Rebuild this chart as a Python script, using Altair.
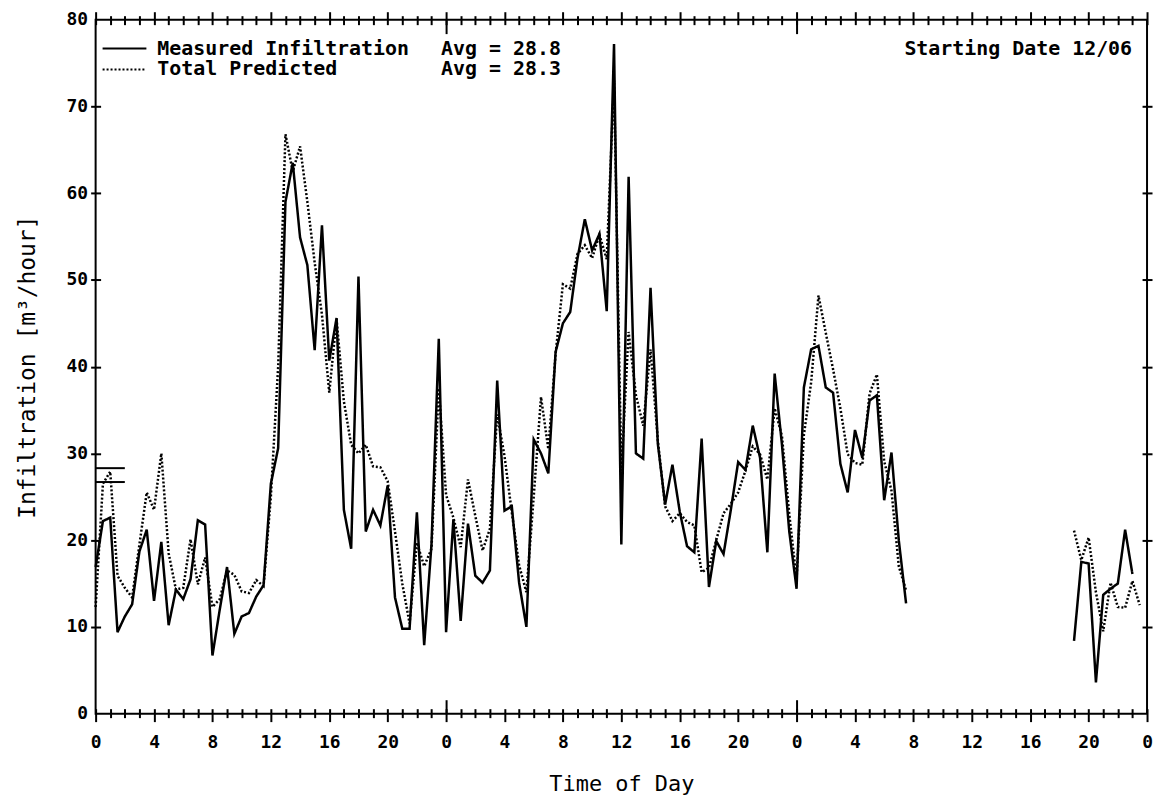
import altair as alt
import pandas as pd

STEP = 0.5  # hours between samples

# ---- data ----
seg1_start = 0.0
measured_1 = [16.9, 22.2, 22.6, 9.4, 11.2, 12.6, 18.7, 21.2, 13.0, 19.8,
              10.2, 14.3, 13.2, 15.5, 22.3, 21.8, 6.7, 12.0, 16.9, 9.2,
              11.2, 11.6, 13.5, 14.8, 26.5, 30.6, 59.0, 63.5, 54.9, 51.7,
              41.9, 56.3, 40.7, 45.6, 23.5, 19.0, 50.4, 21.0, 23.5, 21.7,
              26.3, 13.4, 9.8, 9.8, 23.2, 7.9, 19.5, 43.2, 9.4, 22.4,
              10.7, 21.9, 15.9, 15.1, 16.5, 38.4, 23.4, 23.9, 15.1, 10.0,
              31.6, 30.0, 27.7, 41.7, 45.0, 46.3, 52.5, 57.0, 53.4, 55.3,
              46.4, 77.2, 19.5, 61.9, 30.0, 29.4, 49.1, 31.1, 24.1, 28.7,
              23.3, 19.3, 18.6, 31.7, 14.6, 19.9, 18.4, 23.5, 29.0, 28.1,
              33.2, 29.5, 18.6, 39.2, 31.0, 21.0, 14.4, 37.6, 42.0, 42.4,
              37.6, 37.0, 28.8, 25.5, 32.7, 29.5, 36.1, 36.7, 24.6, 30.1,
              20.0, 12.7]
predicted_1 = [12.3, 26.5, 27.9, 15.9, 14.5, 13.4, 19.5, 25.5, 23.5, 30.0,
               18.5, 14.3, 14.5, 20.1, 14.9, 18.0, 12.3, 13.2, 16.5, 16.0,
               14.1, 13.9, 15.4, 14.7, 25.0, 40.0, 66.8, 62.5, 65.4, 59.0,
               52.0, 46.0, 37.0, 45.5, 36.0, 31.0, 30.0, 31.0, 28.5, 28.4,
               26.8, 21.0, 15.0, 10.4, 19.7, 17.0, 19.0, 37.5, 25.2, 22.6,
               19.2, 27.0, 22.8, 18.8, 21.3, 34.5, 29.7, 23.2, 17.1, 14.0,
               25.0, 36.5, 30.5, 41.5, 49.5, 49.0, 53.0, 54.0, 52.5, 55.2,
               52.4, 73.0, 28.0, 44.0, 36.7, 33.2, 42.0, 31.5, 23.9, 22.2,
               23.1, 22.1, 21.7, 16.3, 16.8, 20.0, 23.1, 24.2, 25.5, 28.0,
               30.8, 29.9, 27.0, 35.2, 32.0, 23.0, 15.5, 32.1, 38.2, 48.2,
               43.9, 39.7, 35.2, 29.9, 28.9, 28.7, 36.9, 39.1, 29.1, 25.7,
               17.0, 14.2]
seg2_start = 67.0
measured_2 = [8.4, 17.5, 17.3, 3.6, 13.7, 14.4, 15.0, 21.2, 16.1]
predicted_2 = [21.1, 17.7, 20.3, 14.0, 9.5, 15.1, 12.3, 12.2, 15.3, 12.5]

avg_marks = [28.3, 26.7]          # short level marks at the left edge
avg_mark_span = [0.0, 2.0]        # hours covered by those marks
legend_names = ["Measured Infiltration", "Total Predicted"]
legend_avgs = ["Avg = 28.8", "Avg = 28.3"]
date_note = "Starting Date 12/06"

hour_ticks = list(range(0, 73))
label_hours = list(range(0, 73, 4))
day_hours = [24, 48]
y_labels = list(range(0, 81, 10))
y_cross = list(range(10, 80, 10))

rows = []
for series, seg, start, vals in [
    ("Measured", 1, seg1_start, measured_1),
    ("Predicted", 1, seg1_start, predicted_1),
    ("Measured", 2, seg2_start, measured_2),
    ("Predicted", 2, seg2_start, predicted_2),
]:
    for k, v in enumerate(vals):
        rows.append({"series": series, "segment": f"{series}-{seg}",
                     "hour": start + k * STEP, "value": v})
df = pd.DataFrame(rows)

avg_df = pd.DataFrame({"value": avg_marks,
                       "x0": [avg_mark_span[0]] * len(avg_marks),
                       "x1": [avg_mark_span[1]] * len(avg_marks)})

FONT = "DejaVu Sans Mono"
W, H = 1056, 697
xscale = alt.Scale(domain=[0, 72], nice=False, zero=False)
yscale = alt.Scale(domain=[0, 80], nice=False)

# axes -----------------------------------------------------------
ax_bottom_labels = alt.Axis(orient="bottom", values=label_hours,
                            labelExpr="'' + (datum.value % 24)",
                            ticks=False, domain=False, grid=False,
                            labelFont=FONT, labelFontSize=18, labelFontWeight="bold",
                            labelColor="black", labelPadding=20, labelOverlap=False,
                            labelFlush=False,
                            title="Time of Day", titleFont=FONT, titleFontSize=22,
                            titleFontWeight="normal", titleColor="black",
                            titleY=70, titleBaseline="middle")
ax_left_labels = alt.Axis(orient="left", values=y_labels, ticks=False, domain=False,
                          grid=False, labelFont=FONT, labelFontSize=18,
                          labelFontWeight="bold", labelColor="black", labelPadding=8,
                          title="Infiltration [m³/hour]", titleFont=FONT,
                          titleFontSize=23, titleFontWeight="normal", titleColor="black",
                          titleX=-68, titleY=H / 2, titleAngle=270,
                          titleAlign="center", titleBaseline="middle")

tick_size_cond = {"condition": {"test": "datum.value % 4 === 0", "value": 13}, "value": 9}
ax_bottom_ticks = alt.Axis(orient="bottom", values=hour_ticks, labels=False, domain=False,
                           grid=False, ticks=True, tickColor="black", tickWidth=2,
                           tickSize=tick_size_cond, offset=-5, title=None)
ax_top_ticks = alt.Axis(orient="top", values=hour_ticks, labels=False, domain=False,
                        grid=False, ticks=True, tickColor="black", tickWidth=2,
                        tickSize=tick_size_cond, offset=-5, title=None)
ax_left_ticks = alt.Axis(orient="left", values=y_cross, labels=False, domain=False,
                         grid=False, ticks=True, tickColor="black", tickWidth=2,
                         tickSize=10, offset=-5, title=None)
ax_right_ticks = alt.Axis(orient="right", values=y_cross, labels=False, domain=False,
                          grid=False, ticks=True, tickColor="black", tickWidth=2,
                          tickSize=10, offset=-5, title=None)
ax_bottom_day = alt.Axis(orient="bottom", values=day_hours, labels=False, domain=False,
                         grid=False, ticks=True, tickColor="black", tickWidth=2,
                         tickSize=14, offset=-14, title=None)
ax_top_day = alt.Axis(orient="top", values=day_hours, labels=False, domain=False,
                      grid=False, ticks=True, tickColor="black", tickWidth=2,
                      tickSize=14, offset=-14, title=None)

# layers ---------------------------------------------------------
lines = alt.Chart(df).mark_line(color="black", strokeWidth=2.5).encode(
    x=alt.X("hour:Q", scale=xscale, axis=ax_bottom_labels),
    y=alt.Y("value:Q", scale=yscale, axis=ax_left_labels),
    detail="segment:N",
    strokeDash=alt.StrokeDash("series:N",
                              scale=alt.Scale(domain=["Measured", "Predicted"],
                                              range=[[1, 0], [2, 2]]),
                              legend=None),
)

avg_rules = alt.Chart(avg_df).mark_rule(color="black", strokeWidth=2).encode(
    x=alt.X("x0:Q", scale=xscale, axis=ax_bottom_ticks),
    x2="x1:Q",
    y=alt.Y("value:Q", scale=yscale, axis=ax_left_ticks),
)

frame_ticks = alt.Chart(avg_df).mark_point(opacity=0).encode(
    x=alt.X("x0:Q", scale=xscale, axis=ax_top_ticks),
    y=alt.Y("value:Q", scale=yscale, axis=ax_right_ticks),
)
day_ticks_bottom = alt.Chart(avg_df).mark_point(opacity=0).encode(
    x=alt.X("x0:Q", scale=xscale, axis=ax_bottom_day),
    y=alt.Y("value:Q", scale=yscale, axis=None),
)
day_ticks_top = alt.Chart(avg_df).mark_point(opacity=0).encode(
    x=alt.X("x0:Q", scale=xscale, axis=ax_top_day),
    y=alt.Y("value:Q", scale=yscale, axis=None),
)

dummy = pd.DataFrame({"k": [0]})
leg_y = [29, 50]
legend_layers = []
legend_layers.append(alt.Chart(dummy).mark_rule(color="black", strokeWidth=2).encode(
    x=alt.value(7), x2=alt.value(51), y=alt.value(leg_y[0])))
legend_layers.append(alt.Chart(dummy).mark_rule(color="black", strokeWidth=2,
                                                strokeDash=[2, 2]).encode(
    x=alt.value(7), x2=alt.value(51), y=alt.value(leg_y[1])))
for i in range(2):
    legend_layers.append(alt.Chart(dummy).mark_text(
        align="left", baseline="middle", font=FONT, fontSize=20, fontWeight="bold",
        color="black").encode(x=alt.value(62), y=alt.value(leg_y[i]),
                              text=alt.value(legend_names[i])))
    legend_layers.append(alt.Chart(dummy).mark_text(
        align="left", baseline="middle", font=FONT, fontSize=20, fontWeight="bold",
        color="black").encode(x=alt.value(347), y=alt.value(leg_y[i]),
                              text=alt.value(legend_avgs[i])))
legend_layers.append(alt.Chart(dummy).mark_text(
    align="right", baseline="middle", font=FONT, fontSize=20, fontWeight="bold",
    color="black").encode(x=alt.value(1041), y=alt.value(leg_y[0]),
                          text=alt.value(date_note)))

chart = alt.layer(lines, avg_rules, frame_ticks, day_ticks_bottom, day_ticks_top,
                  *legend_layers).resolve_axis(
    x="independent", y="independent"
).resolve_scale(x="shared", y="shared").properties(
    width=W, height=H,
    autosize=alt.AutoSizeParams(type="none"),
    padding={"left": 88, "top": 10, "right": 8, "bottom": 85},
    background="white",
).configure_view(stroke="black", strokeWidth=2)

chart.save("out.html", embed_options={"renderer": "svg", "actions": False})
